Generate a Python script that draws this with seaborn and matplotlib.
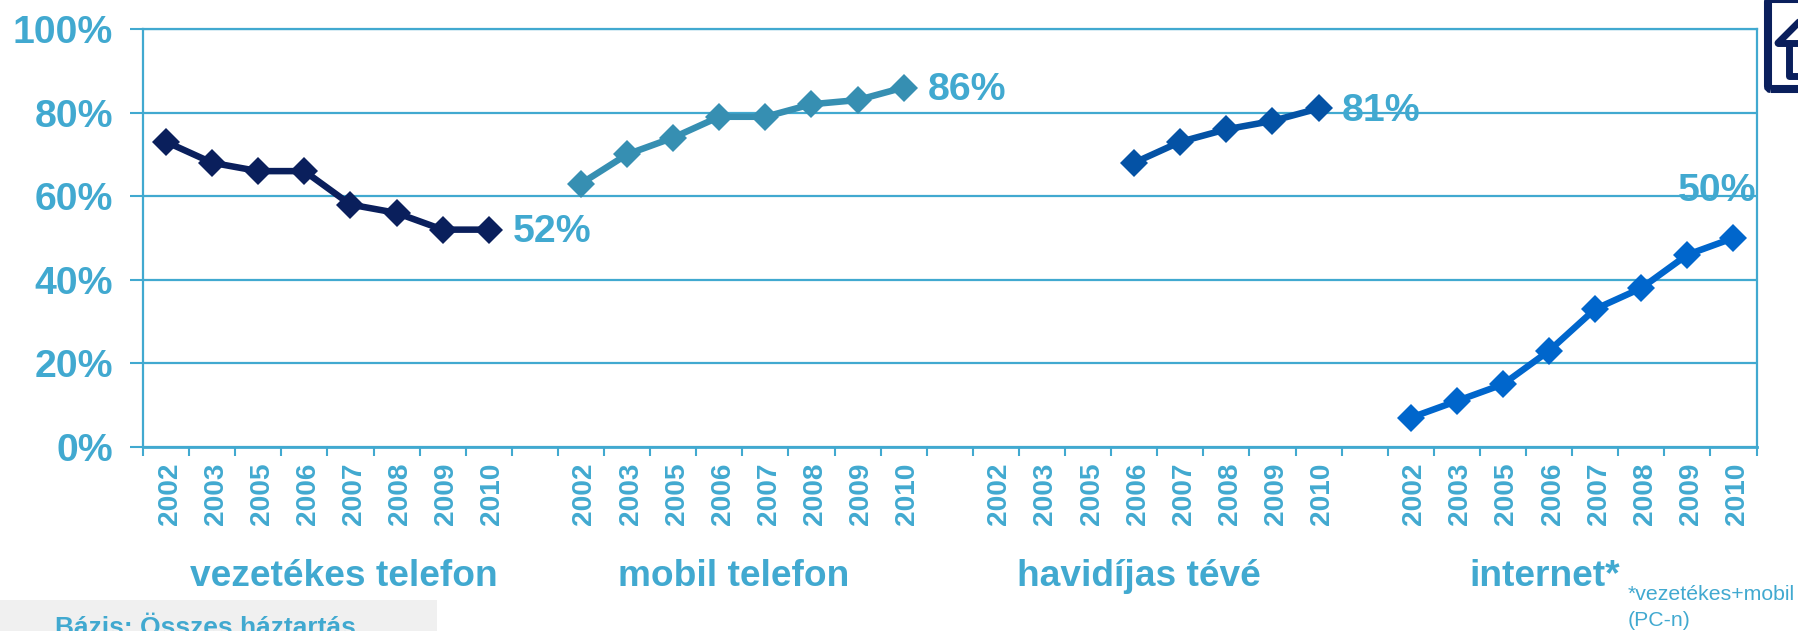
import numpy as np
import pandas as pd
import seaborn as sns
import matplotlib.pyplot as plt
from matplotlib.patches import FancyBboxPatch, Rectangle
from matplotlib.lines import Line2D
from matplotlib.transforms import ScaledTranslation

years = ["2002", "2003", "2005", "2006", "2007", "2008", "2009", "2010"]
groups = ["vezetékes telefon", "mobil telefon", "havidíjas tévé", "internet*"]
vezetekes = [73, 68, 66, 66, 58, 56, 52, 52]
mobil = [63, 70, 74, 79, 79, 82, 83, 86]
havidijas = [np.nan, np.nan, np.nan, 68, 73, 76, 78, 81]
internet = [7, 11, 15, 23, 33, 38, 46, 50]
series = [vezetekes, mobil, havidijas, internet]
colors = ["#0A1F5C", "#368FB2", "#0452A5", "#0066CC"]
y_ticks = [0, 20, 40, 60, 80, 100]

W, H = 1798, 631
BLUE = "#41A9D0"

sns.set_theme(style="white")
plt.rcParams["font.family"] = ["Liberation Sans", "DejaVu Sans"]

# one table row per year, 9 slots per group (8 years + one empty slot)
rows = []
for g, (name, vals) in enumerate(zip(groups, series)):
    for i, v in enumerate(vals):
        rows.append({"slot": g * 9 + i, "group": name, "year": years[i], "value": v})
df = pd.DataFrame(rows)

fig = plt.figure(figsize=(W / 100, H / 100), dpi=100)
ax = fig.add_axes([143 / W, 1 - 447 / H, (1756.5 - 143) / W, (447 - 29) / H])

sns.lineplot(data=df.dropna(), x="slot", y="value", hue="group", hue_order=groups,
             palette=colors, style="group", markers={g: "D" for g in groups},
             dashes=False, linewidth=4.7, markersize=14.5, markeredgewidth=0,
             legend=False, ax=ax, clip_on=False, zorder=3)

ax.set_xlim(-0.5, 34.5)
ax.set_ylim(0, 100)
ax.set_xlabel("")
ax.set_ylabel("")

ax.set_yticks(y_ticks)
ax.set_yticklabels([f"{t}%" for t in y_ticks], fontsize=28.3, fontweight="bold", color=BLUE)
ax.tick_params(axis="y", length=9.5, width=1.5, color=BLUE, pad=12, left=True)
ax.yaxis.grid(True, color=BLUE, linewidth=1.6)
ax.set_axisbelow(True)

slots = df["slot"].tolist()
ax.set_xticks(slots)
ax.set_xticklabels(df["year"].tolist(), rotation=90, fontsize=20.2, fontweight="bold", color=BLUE)
ax.tick_params(axis="x", which="major", length=0, pad=11)
ax.set_xticks(np.arange(-0.5, 35, 1), minor=True)
ax.tick_params(axis="x", which="minor", length=6.5, width=1.5, color=BLUE, bottom=True)

# year labels sit slightly right of the slot centre
nudge = ScaledTranslation(3.5 / 100, 0, fig.dpi_scale_trans)
for t in ax.get_xticklabels():
    t.set_transform(t.get_transform() + nudge)

for s in ax.spines.values():
    s.set_visible(True)
    s.set_color(BLUE)
    s.set_linewidth(1.6)
ax.spines["bottom"].set_linewidth(2)

# end labels
lab = dict(fontsize=28.3, fontweight="bold", color=BLUE, zorder=4)
for g, vals in enumerate(series[:3]):
    ax.annotate(f"{vals[-1]}%", (g * 9 + 7, vals[-1]), xytext=(17, -2), textcoords="offset points",
                ha="left", va="center", **lab)
ax.annotate(f"{internet[-1]}%", (34, internet[-1]), xytext=(-12, 34), textcoords="offset points",
            ha="center", va="center", **lab)


def px(x, y):
    return x / W, 1 - y / H


for name, x in zip(groups, [344, 734, 1139, 1545]):
    fig.text(*px(x, 576), name, ha="center", va="center", fontsize=26.7, fontweight="bold", color=BLUE)

fig.text(*px(1628, 595), "*vezetékes+mobil", ha="left", va="center", fontsize=15.3, color=BLUE)
fig.text(*px(1628, 621), "(PC-n)", ha="left", va="center", fontsize=15.3, color=BLUE)

# grey base note, cut by the bottom edge as in the source slide
fig.add_artist(Rectangle(px(0, 631), 437 / W, 31 / H, transform=fig.transFigure,
                         facecolor="#F0F0F0", edgecolor="none", zorder=-1))
fig.text(*px(55, 635), "Bázis: Összes háztartás", ha="left", va="baseline", fontsize=19,
         fontweight="bold", color=BLUE)

# home icon in the corner, partly outside the canvas
NAVY = "#0A1F5C"
tr = fig.dpi_scale_trans


def p(x, y):
    return x / 100, (H - y) / 100


fig.add_artist(FancyBboxPatch(p(1768, 89), 80 / 100, 90 / 100, boxstyle="round,pad=0,rounding_size=0.03",
                              transform=tr, facecolor="none", edgecolor=NAVY, linewidth=5.8))
for xs, ys in [([1778, 1805], [43, 16]), ([1778, 1805], [43, 43]), ([1788.5, 1788.5, 1805], [43, 76, 76])]:
    pts = [p(a, b) for a, b in zip(xs, ys)]
    fig.add_artist(Line2D([q[0] for q in pts], [q[1] for q in pts], transform=tr, color=NAVY,
                          linewidth=5, solid_capstyle="round", solid_joinstyle="round"))

fig.savefig("out.png", dpi=100)
